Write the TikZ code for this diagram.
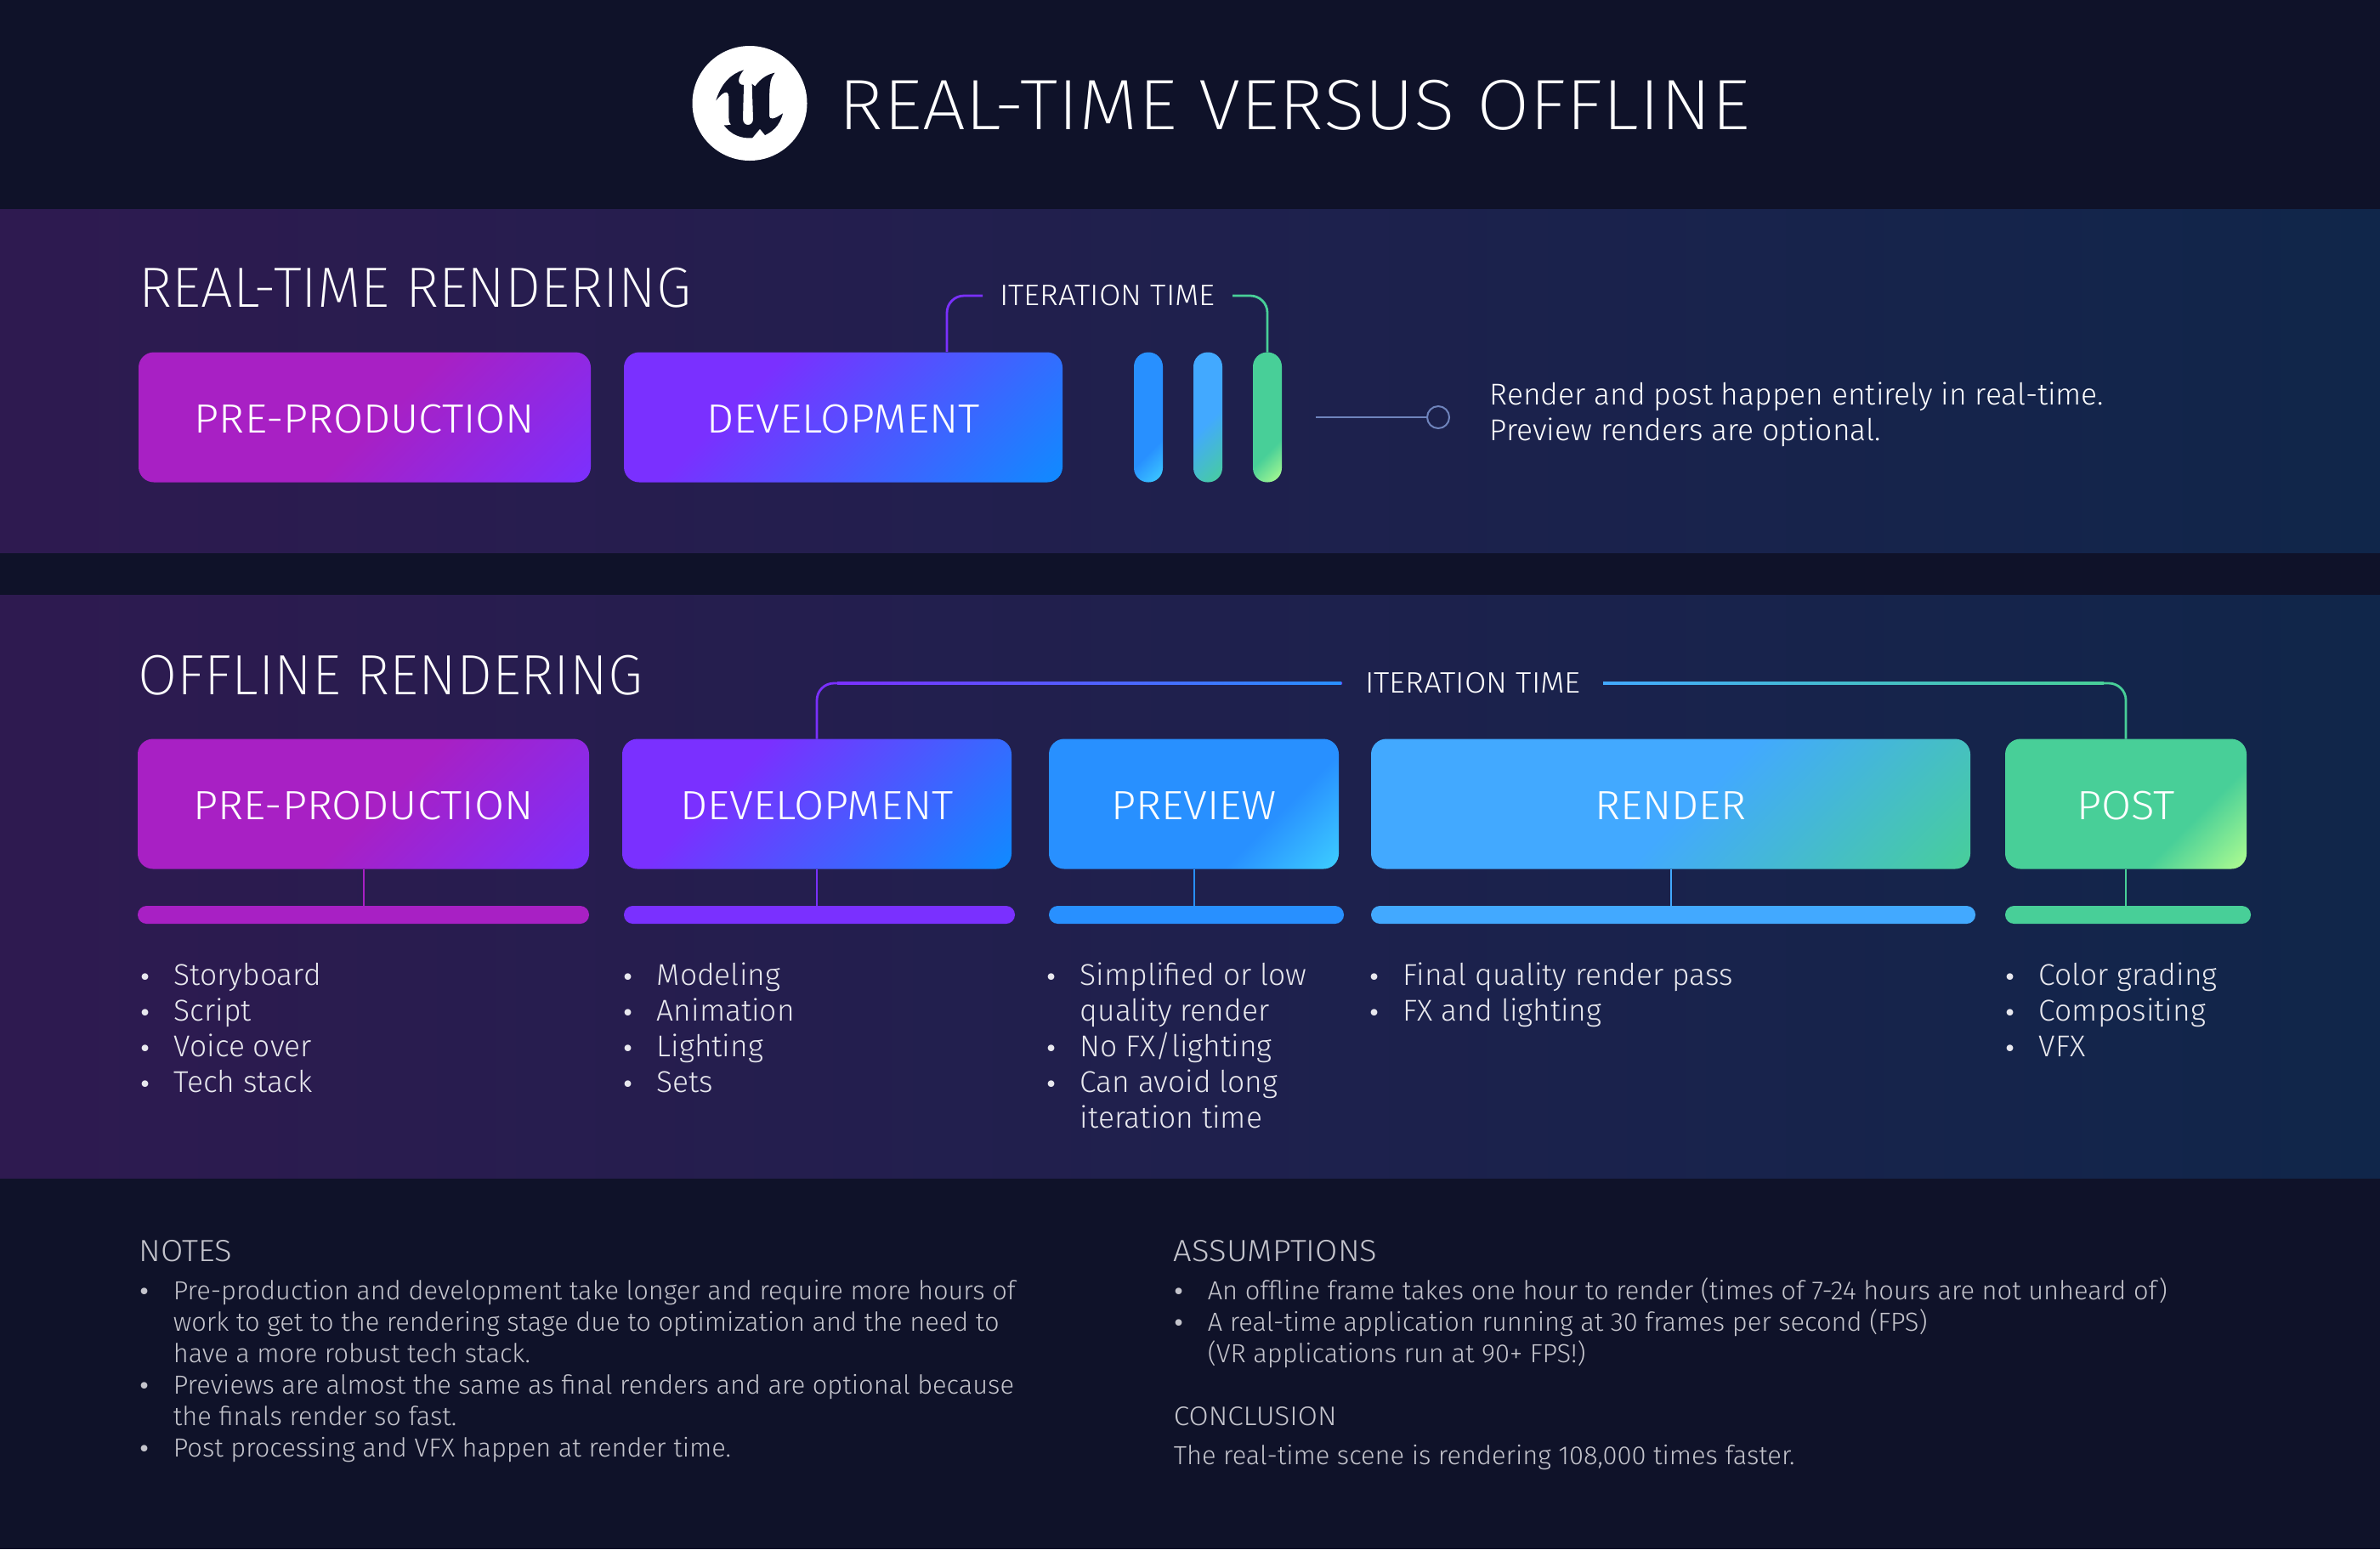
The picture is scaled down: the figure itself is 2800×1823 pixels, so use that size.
\documentclass[tikz,border=0pt]{standalone}
\usepackage{fontspec}
\setmainfont{Fira Sans Light}
\newfontfamily\headfont{Fira Sans ExtraLight}
\newfontfamily\titlefont[FakeStretch=1.075]{Fira Sans ExtraLight}
\newfontfamily\labelfont[FakeStretch=1.06]{Fira Sans Light}
\newfontfamily\bulfont{DejaVu Sans}
\usepackage{tikz}
\usetikzlibrary{calc,positioning}
\definecolor{pagebg}{HTML}{0F1229}
\definecolor{bandleft}{HTML}{2E1A50}
\definecolor{bandmid}{HTML}{21214F}
\definecolor{bandright}{HTML}{10264A}
\definecolor{prepurple}{HTML}{A820C4}
\definecolor{devviolet}{HTML}{7A30FF}
\definecolor{devblue}{HTML}{0E8CFF}
\definecolor{prevblue}{HTML}{2890FF}
\definecolor{prevcyan}{HTML}{3ED0FF}
\definecolor{rendblue}{HTML}{42A9FF}
\definecolor{postgreen}{HTML}{48CF98}
\definecolor{postlime}{HTML}{B4FF90}
\definecolor{ringline}{HTML}{6F84BC}
\definecolor{itemtext}{HTML}{E8E8EE}
\definecolor{notetext}{HTML}{C4C4CC}
\pgfdeclarehorizontalshading{preshade}{100bp}{color(0bp)=(prepurple); color(52bp)=(prepurple); color(86bp)=(devviolet); color(100bp)=(devviolet)}
\pgfdeclarehorizontalshading{devshade}{100bp}{color(0bp)=(devviolet); color(35bp)=(devviolet); color(86bp)=(devblue); color(100bp)=(devblue)}
\pgfdeclarehorizontalshading{prevshade}{100bp}{color(0bp)=(prevblue); color(66bp)=(prevblue); color(86bp)=(prevcyan); color(100bp)=(prevcyan)}
\pgfdeclarehorizontalshading{rendshade}{100bp}{color(0bp)=(rendblue); color(52bp)=(rendblue); color(86bp)=(postgreen); color(100bp)=(postgreen)}
\pgfdeclarehorizontalshading{postshade}{100bp}{color(0bp)=(postgreen); color(66bp)=(postgreen); color(86bp)=(postlime); color(100bp)=(postlime)}
\tikzset{%
        stagebox/.style={
            rounded corners=4.5pt,
            inner sep=0pt,
            outer sep=0pt,
            minimum height=38.25pt,
            text height=9pt,
            text depth=0pt,
            shading angle=-45,
            text=white,
            font=\labelfont\fontsize{12}{14}\selectfont
        },
        boxw/.style={minimum width=#1*0.25pt},
        pillbar/.style={
            rounded corners=4.2pt,
            inner sep=0pt,
            outer sep=0pt,
            minimum width=8.5pt,
            minimum height=38.25pt,
            shading angle=-45
        },
        stripbar/.style={
            rounded corners=2.6pt,
            inner sep=0pt,
            outer sep=0pt,
            minimum height=5.25pt,
            anchor=north west
        },
        iterlabel/.style={
            inner sep=0pt,
            outer sep=0pt,
            minimum height=9pt,
            text=white,
            font=\labelfont\fontsize{8.7}{10}\selectfont
        },
        heading/.style={
            anchor=base west,
            inner sep=0pt,
            text=white,
            font=\headfont\fontsize{16.7}{20}\selectfont
        },
        itemlist/.style={
            anchor=base west,
            inner sep=0pt,
            align=left,
            text=itemtext,
            font=\fontsize{8.85}{10.5}\selectfont
        },
        notelist/.style={
            anchor=base west,
            inner sep=0pt,
            align=left,
            text=notetext,
            font=\fontsize{7.7}{9.22}\selectfont
        },
        notehead/.style={
            anchor=base west,
            inner sep=0pt,
            text=notetext,
            font=\labelfont\fontsize{9}{10}\selectfont
        },
        iterline/.style={line width=0.7pt},
        dropline/.style={line width=0.5pt}
}
\newcommand{\bul}{\makebox[10.5pt][l]{\bulfont\fontsize{6.6}{6.6}\selectfont •}}
\newcommand{\cont}{\hspace*{10.5pt}}
\begin{document}
\begin{tikzpicture}[x=0.25pt,y=-0.25pt]
        \useasboundingbox (0,0) rectangle (2800,1823);
        \fill[pagebg] (0,0) rectangle (2800,1823);
        \shade[left color=bandleft, middle color=bandmid, right color=bandright] (0,246) rectangle (2800,650);
        \shade[left color=bandleft, middle color=bandmid, right color=bandright] (0,700) rectangle (2800,1386);

        \node[circle, fill=white, inner sep=0pt, minimum size=33.75pt] (logo) at (882,121.5) {};
        \fill[pagebg, shift={(810,50)}, scale=1/3]
            (97,205) .. controls (115,145) and (150,110) .. (195,97)
            .. controls (175,120) and (168,150) .. (195,150)
            -- (192,270) .. controls (192,298) and (228,298) .. (228,270)
            -- (224,146) -- (235,155)
            .. controls (255,125) and (285,110) .. (305,107)
            .. controls (285,130) and (285,150) .. (285,260)
            .. controls (287,272) and (300,274) .. (333,250)
            .. controls (322,295) and (295,315) .. (270,327)
            -- (252,305) -- (225,337)
            .. controls (185,340) and (150,325) .. (125,292)
            .. controls (135,292) and (142,292) .. (150,290)
            .. controls (140,280) and (142,270) .. (142,190)
            .. controls (140,165) and (120,175) .. (97,205) -- cycle;
        \node[anchor=base west, inner sep=0pt, text=white, font=\titlefont\fontsize{21}{25}\selectfont] (title) at (986,152) {REAL-TIME VERSUS OFFLINE};

        \node[heading] (rthead) at (163,361) {REAL-TIME RENDERING};
        \node[stagebox, boxw=532, shading=preshade] (rtpre) at (429,491) {PRE-PRODUCTION};
        \node[stagebox, boxw=516, shading=devshade, right=9.75pt of rtpre] (rtdev) {DEVELOPMENT};
        \node[pillbar, shading=prevshade] (rtbarA) at (1351,491) {};
        \node[pillbar, shading=rendshade, right=9pt of rtbarA] (rtbarB) {};
        \node[pillbar, shading=postshade, right=9pt of rtbarB] (rtbarC) {};
        \node[iterlabel, boxw=294] (rtiter) at (1303,348) {ITERATION TIME};
        \coordinate (rtdrop) at (1114,414);
        \draw[iterline, devviolet, rounded corners=5pt] (rtiter.west) -| (rtdrop);
        \draw[iterline, postgreen, rounded corners=5pt] (rtiter.east) -| (rtbarC.north);
        \node[circle, draw=ringline, line width=0.5pt, inner sep=0pt, minimum size=6.5pt] (rtring) at (1692,491) {};
        \coordinate (rtlinestart) at (1548,491);
        \draw[line width=0.5pt, ringline] (rtlinestart) -- (rtring);
        \node[itemlist, text=white] (rtnote) at (1752,518.5) {Render and post happen entirely in real-time.\\Preview renders are optional.};

        \node[heading] (offhead) at (162,817) {OFFLINE RENDERING};
        \node[stagebox, boxw=531, shading=preshade] (offpre) at (427.5,946) {PRE-PRODUCTION};
        \node[stagebox, boxw=458, shading=devshade, right=9.75pt of offpre] (offdev) {DEVELOPMENT};
        \node[stagebox, boxw=341, shading=prevshade, right=11pt of offdev] (offprev) {PREVIEW};
        \node[stagebox, boxw=705, shading=rendshade, right=9.5pt of offprev] (offrend) {RENDER};
        \node[stagebox, boxw=284, shading=postshade, right=10.25pt of offrend] (offpost) {POST};
        \node[iterlabel, boxw=308] (offiter) at (1733,804) {\raisebox{-0.6pt}{ITERATION TIME}};
        \draw[iterline, devviolet, rounded corners=5pt] (offiter.west) -| (offdev.north);
        \draw[iterline, postgreen, rounded corners=5pt] (offiter.east) -| (offpost.north);
        \coordinate (offleftA) at (985,802.6);
        \coordinate (offleftB) at (1578,805.4);
        \coordinate (offrightA) at (1886,802.6);
        \coordinate (offrightB) at (2475,805.4);
        \shade[left color=devviolet, right color=prevblue] (offleftA) rectangle (offleftB);
        \shade[left color=rendblue, right color=postgreen] (offrightA) rectangle (offrightB);

        \node[stripbar, boxw=531, fill=prepurple] (offprebar) at (162,1066) {};
        \node[stripbar, boxw=460, fill=devviolet] (offdevbar) at (734,1066) {};
        \node[stripbar, boxw=347, fill=prevblue] (offprevbar) at (1234,1066) {};
        \node[stripbar, boxw=711, fill=rendblue] (offrendbar) at (1613,1066) {};
        \node[stripbar, boxw=289, fill=postgreen] (offpostbar) at (2359,1066) {};
        \draw[dropline, prepurple] (offpre.south) -- (offprebar.north -| offpre.south);
        \draw[dropline, devviolet] (offdev.south) -- (offdevbar.north -| offdev.south);
        \draw[dropline, prevblue] (offprev.south) -- (offprevbar.north -| offprev.south);
        \draw[dropline, rendblue] (offrend.south) -- (offrendbar.north -| offrend.south);
        \draw[dropline, postgreen] (offpost.south) -- (offpostbar.north -| offpost.south);

        \node[itemlist] (prelist) at (162,1285.5) {\bul Storyboard\\\bul Script\\\bul Voice over\\\bul Tech stack};
        \node[itemlist] (devlist) at (730,1285.5) {\bul Modeling\\\bul Animation\\\bul Lighting\\\bul Sets};
        \node[itemlist] (prevlist) at (1228,1327.5) {\bul Simplified or low\\\cont quality render\\\bul No FX/lighting\\\bul Can avoid long\\\cont iteration time};
        \node[itemlist] (rendlist) at (1608,1201.5) {\bul Final quality render pass\\\bul FX and lighting};
        \node[itemlist] (postlist) at (2356,1243.5) {\bul Color grading\\\bul Compositing\\\bul VFX};

        \node[notehead] (noteshead) at (163,1484) {NOTES};
        \node[notelist] (notes) at (161,1714) {\bul Pre-production and development take longer and require more hours of\\\cont work to get to the rendering stage due to optimization and the need to\\\cont have a more robust tech stack.\\\bul Previews are almost the same as final renders and are optional because\\\cont the finals render so fast.\\\bul Post processing and VFX happen at render time.};
        \node[notehead] (assumehead) at (1380,1484) {ASSUMPTIONS};
        \node[notelist] (assume) at (1378,1603.5) {\bul An offline frame takes one hour to render (times of 7-24 hours are not unheard of)\\\bul A real-time application running at 30 frames per second (FPS)\\\cont (VR applications run at 90+ FPS!)};
        \node[notehead, font=\labelfont\fontsize{7.9}{10}\selectfont] (conclhead) at (1380,1677) {CONCLUSION};
        \node[notelist] (concl) at (1380,1723.5) {The real-time scene is rendering 108,000 times faster.};
\end{tikzpicture}
\end{document}
